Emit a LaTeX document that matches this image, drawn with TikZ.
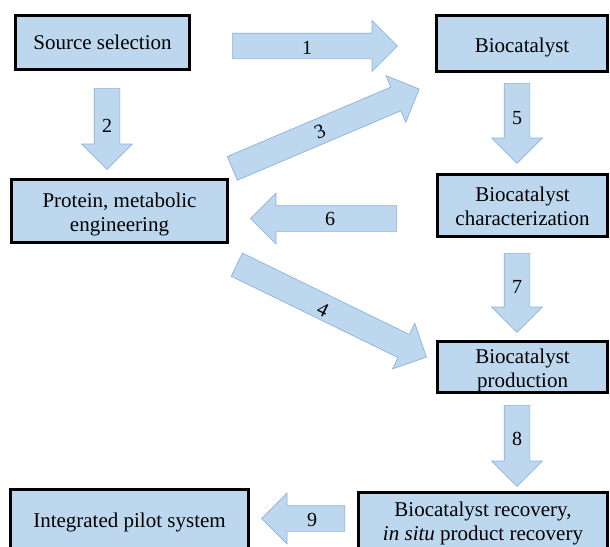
\documentclass[tikz,border=0pt]{standalone}
\usepackage{fontspec}
\setmainfont{Liberation Serif}
\usetikzlibrary{shapes.arrows}
\definecolor{boxfill}{RGB}{189,215,238}
\definecolor{arrowline}{RGB}{140,178,222}
\newcommand\boxtext[2][3pt]{\raisebox{-#1}[\height][\depth]{\begin{tabular}{@{}c@{}}#2\end{tabular}}}
\begin{document}
\begin{tikzpicture}[x=1pt,y=-1pt,
  box/.style={draw=black, line width=3pt, fill=boxfill,
    font=\fontsize{21}{24}\selectfont, inner sep=0pt},
  barrow/.style={single arrow, draw=arrowline, line width=0.7pt, fill=boxfill,
    minimum width=50pt, single arrow head extend=12.5pt,
    single arrow tip angle=90, inner sep=12.5pt, anchor=tail},
  lbl/.style={font=\fontsize{20}{20}\selectfont, inner sep=0pt},
]
\clip (0,0) rectangle (610,546);
% boxes
\node[box, minimum width=174pt, minimum height=54pt] (src) at (102.5,42.5) {\boxtext[2.7pt]{Source selection}};
\node[box, minimum width=171pt, minimum height=56pt] (bio) at (522,43.5) {\boxtext[3.8pt]{Biocatalyst}};
\node[box, minimum width=216pt, minimum height=63pt] (prot) at (119.5,211) {\boxtext[3.5pt]{Protein, metabolic\\engineering}};
\node[box, minimum width=170pt, minimum height=62pt] (char) at (522.5,205.5) {\boxtext[3.5pt]{Biocatalyst\\characterization}};
\node[box, minimum width=170pt, minimum height=51pt] (prod) at (522.5,367) {\boxtext[3.5pt]{Biocatalyst\\production}};
\node[box, minimum width=238pt, minimum height=60pt] (integ) at (129.5,519.5) {\boxtext{Integrated pilot system}};
\node[box, minimum width=249pt, minimum height=57pt] (recov) at (483,521) {\boxtext{Biocatalyst recovery,\\\textit{in situ} product recovery}};
% block arrows
\node[barrow, minimum height=165pt] (a1) at (232,46) {};
\node[barrow, minimum height=81pt, shape border rotate=270] (a2) at (107,88) {};
\node[barrow, minimum height=203pt, rotate=23] (a3) at (232,168.5) {};
\node[barrow, minimum height=211pt, rotate=-26] (a4) at (236.5,264.5) {};
\node[barrow, minimum height=80pt, shape border rotate=270] (a5) at (517,83) {};
\node[barrow, minimum height=146pt, shape border rotate=180] (a6) at (397,218.5) {};
\node[barrow, minimum height=79pt, shape border rotate=270] (a7) at (517,253) {};
\node[barrow, minimum height=81pt, shape border rotate=270] (a8) at (517,405) {};
\node[barrow, minimum height=83pt, shape border rotate=180] (a9) at (345,518.5) {};
% labels
\node[lbl] (l1) at (307,48) {1};
\node[lbl] (l2) at (107,126) {2};
\node[lbl, rotate=23] (l3) at (320,132) {3};
\node[lbl, rotate=-26] (l4) at (323,310) {4};
\node[lbl] (l5) at (517,118) {5};
\node[lbl] (l6) at (330,219) {6};
\node[lbl] (l7) at (517,287) {7};
\node[lbl] (l8) at (517,439) {8};
\node[lbl] (l9) at (312,520) {9};
\end{tikzpicture}
\end{document}
